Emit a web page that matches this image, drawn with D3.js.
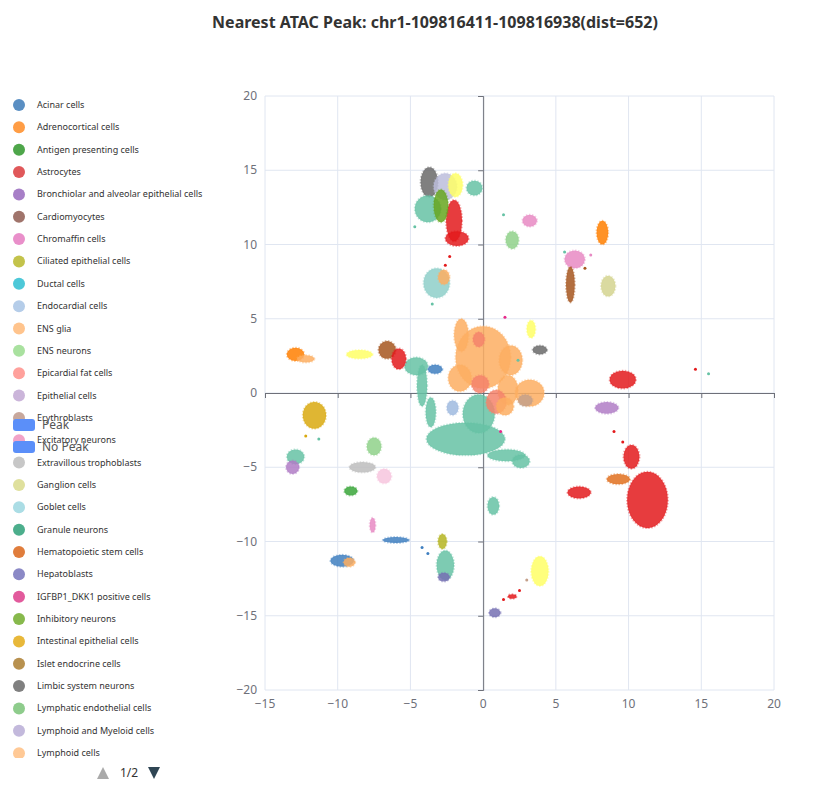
<!DOCTYPE html>
<html><head><meta charset="utf-8">
<script src="https://cdn.jsdelivr.net/npm/d3@7"></script>
<style>body{margin:0;background:#fff;font-family:"Noto Sans",sans-serif}</style>
</head><body><svg id="c" width="832" height="798"></svg>
<script>
const title = "Nearest ATAC Peak: chr1-109816411-109816938(dist=652)";
const categories = ["Acinar cells","Adrenocortical cells","Antigen presenting cells","Astrocytes","Bronchiolar and alveolar epithelial cells","Cardiomyocytes","Chromaffin cells","Ciliated epithelial cells","Ductal cells","Endocardial cells","ENS glia","ENS neurons","Epicardial fat cells","Epithelial cells","Erythroblasts","Excitatory neurons","Extravillous trophoblasts","Ganglion cells","Goblet cells","Granule neurons","Hematopoietic stem cells","Hepatoblasts","IGFBP1_DKK1 positive cells","Inhibitory neurons","Intestinal epithelial cells","Islet endocrine cells","Limbic system neurons","Lymphatic endothelial cells","Lymphoid and Myeloid cells","Lymphoid cells"];
const legendColors = ["#5a8fc3","#ff9d45","#4ea64a","#e0585a","#a77fc7","#a0746b","#e98fca","#c3c34b","#4dc8d8","#b5cde9","#ffc48d","#a9e19f","#ffa19c","#cbb5da","#c8a89c","#f2a3c8","#c7c7c7","#dfe09d","#abdde5","#4cae8c","#e07d3c","#8b89c6","#e25a9c","#87b94c","#e8b83a","#b8914f","#808080","#8ecc8c","#c3b9dc","#ffc996"];
const xTicks = [-15,-10,-5,0,5,10,15,20];
const yTicks = [-20,-15,-10,-5,0,5,10,15,20];
// clusters: [cell type, x, y, rx, ry] in UMAP units
const clusters = [
 ["Granule neurons",-1.2,-3.1,2.7,1.1],["Granule neurons",-0.3,-1.4,1.1,1.3],["Granule neurons",1.6,-4.2,1.3,0.4],["Granule neurons",2.6,-4.6,0.6,0.45],
 ["Granule neurons",-4.2,0.5,0.35,1.4],["Granule neurons",-3.6,-1.3,0.35,1.0],["Granule neurons",-4.6,1.8,0.8,0.6],
 ["ENS glia",0.0,2.4,1.9,2.1],["ENS glia",-1.5,3.9,0.5,1.1],["ENS glia",1.9,2.2,0.8,1.0],["ENS glia",-1.6,1.0,0.8,0.9],["ENS glia",1.7,0.2,0.7,1.0],["Epicardial fat cells",0.9,-0.6,0.7,0.8],["ENS glia",1.5,-0.9,0.6,0.6],
 ["Epicardial fat cells",-0.2,0.6,0.6,0.6],["Epicardial fat cells",-0.3,3.6,0.4,0.5],["Acinar cells",-3.3,1.6,0.5,0.3],["Endocardial cells",-2.1,-1.0,0.4,0.5],
 ["Limbic system neurons",-3.7,14.2,0.6,1.0],["Lymphoid and Myeloid cells",-2.6,13.9,0.8,0.9],["Ganglion cells",-1.9,14.0,0.5,0.8],
 ["Astrocytes",-2.0,11.6,0.55,1.4],["Astrocytes",-1.8,10.4,0.8,0.5],["Granule neurons",-3.8,12.4,0.9,0.9],["Inhibitory neurons",-2.9,12.6,0.5,1.1],["Granule neurons",-0.6,13.8,0.55,0.5],
 ["Chromaffin cells",3.2,11.6,0.5,0.4],["Lymphatic endothelial cells",2.0,10.3,0.45,0.6],
 ["Adrenocortical cells",8.2,10.8,0.4,0.8],["Chromaffin cells",6.3,9.0,0.7,0.6],["Cardiomyocytes",6.0,7.3,0.3,1.2],["Ganglion cells",8.6,7.2,0.5,0.7],
 ["Goblet cells",-3.2,7.4,0.9,1.0],["ENS glia",-2.7,7.8,0.4,0.5],
 ["Adrenocortical cells",-12.9,2.6,0.6,0.45],["ENS glia",-12.2,2.3,0.6,0.25],
 ["Ganglion cells",-8.5,2.6,0.9,0.3],["Cardiomyocytes",-6.6,2.9,0.6,0.6],["Astrocytes",-5.8,2.3,0.5,0.7],
 ["Limbic system neurons",3.9,2.9,0.5,0.3],["Ganglion cells",3.3,4.3,0.3,0.6],
 ["ENS glia",3.2,0.0,1.0,0.9],["Erythroblasts",2.9,-0.5,0.5,0.4],
 ["Astrocytes",9.6,0.9,0.9,0.6],["Bronchiolar and alveolar epithelial cells",8.5,-1.0,0.8,0.4],
 ["Astrocytes",11.3,-7.2,1.4,1.9],["Astrocytes",10.2,-4.3,0.55,0.8],["Hematopoietic stem cells",9.3,-5.8,0.8,0.35],["Astrocytes",6.6,-6.7,0.8,0.4],
 ["Intestinal epithelial cells",-11.6,-1.5,0.8,0.9],["Granule neurons",-12.9,-4.3,0.6,0.5],["Bronchiolar and alveolar epithelial cells",-13.1,-5.0,0.45,0.45],
 ["Lymphatic endothelial cells",-7.5,-3.6,0.5,0.6],["Extravillous trophoblasts",-8.3,-5.0,0.9,0.35],["Excitatory neurons",-6.8,-5.6,0.5,0.5],["Antigen presenting cells",-9.1,-6.6,0.45,0.3],
 ["Granule neurons",0.7,-7.6,0.4,0.6],
 ["Acinar cells",-9.7,-11.3,0.8,0.4],["ENS glia",-9.2,-11.4,0.4,0.3],["Acinar cells",-6.0,-9.9,0.9,0.2],["Chromaffin cells",-7.6,-8.9,0.2,0.5],
 ["Granule neurons",-2.6,-11.6,0.6,1.0],["Ciliated epithelial cells",-2.8,-10.0,0.3,0.5],["Hepatoblasts",-2.7,-12.4,0.4,0.3],
 ["Ganglion cells",3.9,-12.0,0.6,1.0],["Hepatoblasts",0.8,-14.8,0.4,0.3],["Astrocytes",2.0,-13.7,0.3,0.15]
];
// scattered single cells: [cell type, x, y]
const dots = [["Astrocytes",14.6,1.6],["Granule neurons",15.5,1.3],["Astrocytes",-2.3,9.2],["Astrocytes",-2.6,8.6],["Granule neurons",1.4,12.0],
 ["Granule neurons",-4.7,11.2],["Granule neurons",-3.5,6.0],["Chromaffin cells",7.4,9.3],["Cardiomyocytes",7.0,8.4],["Granule neurons",5.6,9.5],
 ["Astrocytes",9.0,-2.6],["Astrocytes",9.6,-3.3],["IGFBP1_DKK1 positive cells",1.2,-2.6],["IGFBP1_DKK1 positive cells",1.5,5.1],["Granule neurons",2.4,2.2],
 ["Astrocytes",1.4,-13.9],["Astrocytes",2.5,-13.3],["Erythroblasts",3.0,-12.6],["Acinar cells",-4.2,-10.4],["Acinar cells",-3.8,-10.8],["Granule neurons",-11.3,-3.1],["Intestinal epithelial cells",-12.2,-2.9]];
const plotColor = {"Granule neurons":"#66c2a5","ENS glia":"#fdae61","Epicardial fat cells":"#f4826b","Acinar cells":"#3f7fc0","Endocardial cells":"#9fbadf",
 "Limbic system neurons":"#6a6a6a","Lymphoid and Myeloid cells":"#bcbddc","Ganglion cells":"#ffff66","Astrocytes":"#e31a1c","Inhibitory neurons":"#66a61e",
 "Chromaffin cells":"#e78ac3","Lymphatic endothelial cells":"#8fd18a","Adrenocortical cells":"#ff7f00","Cardiomyocytes":"#a6561f","Goblet cells":"#8ecfc9",
 "Erythroblasts":"#c4a08a","Bronchiolar and alveolar epithelial cells":"#b07cc6","Hematopoietic stem cells":"#e0701f","Intestinal epithelial cells":"#d9a90f",
 "Hepatoblasts":"#7570b3","Extravillous trophoblasts":"#bdbdbd","Excitatory neurons":"#f7c6de","Antigen presenting cells":"#3aa63a","Ciliated epithelial cells":"#b5b521","IGFBP1_DKK1 positive cells":"#e7298a"};
const overrides = {"Ganglion cells":[[8.6,7.2,"#d4d48f"]]};

const svg = d3.select("#c");
svg.append("text").attr("x",435).attr("y",28).attr("text-anchor","middle").attr("font-size",16).attr("font-weight","bold").attr("fill","#333").text(title);
const x = d3.scaleLinear().domain([-15,20]).range([265,774]);
const y = d3.scaleLinear().domain([-20,20]).range([690,96]);
const g = svg.append("g");
xTicks.forEach(t=>g.append("line").attr("x1",x(t)).attr("x2",x(t)).attr("y1",y(20)).attr("y2",y(-20)).attr("stroke","#e0e6f1"));
yTicks.forEach(t=>g.append("line").attr("y1",y(t)).attr("y2",y(t)).attr("x1",x(-15)).attr("x2",x(20)).attr("stroke","#e0e6f1"));
const xa = svg.append("g").attr("transform",`translate(0,${y(0)})`).call(d3.axisBottom(x).tickValues(xTicks).tickSize(5).tickFormat(""));
const ya = svg.append("g").attr("transform",`translate(${x(0)},0)`).call(d3.axisLeft(y).tickValues(yTicks).tickSize(5).tickFormat(""));
[xa,ya].forEach(a=>{a.selectAll("path,line").attr("stroke","#6e7079");});
xTicks.forEach(t=>svg.append("text").attr("x",x(t)).attr("y",708).attr("text-anchor","middle").attr("font-size",12).attr("fill","#6e7079").text(t<0?"\u2212"+(-t):t));
yTicks.forEach(t=>svg.append("text").attr("x",257).attr("y",y(t)+4).attr("text-anchor","end").attr("font-size",12).attr("fill","#6e7079").text(t<0?"\u2212"+(-t):t));
const col = (n,cx,cy)=>{const o=(overrides[n]||[]).find(v=>v[0]===cx&&v[1]===cy);return o?o[2]:(plotColor[n]||"#999");};
const pg = svg.append("g");
pg.selectAll("ellipse.c").data(clusters).join("ellipse")
 .attr("cx",d=>x(d[1])).attr("cy",d=>y(d[2]))
 .attr("rx",d=>x(d[3])-x(0)).attr("ry",d=>y(0)-y(d[4]))
 .attr("fill",d=>col(d[0],d[1],d[2])).attr("fill-opacity",0.85)
 .attr("stroke",d=>col(d[0],d[1],d[2])).attr("stroke-opacity",0.4).attr("stroke-width",2).attr("stroke-dasharray","1.5 1.5");
pg.selectAll("circle.d").data(dots).join("circle").attr("cx",d=>x(d[1])).attr("cy",d=>y(d[2])).attr("r",1.5).attr("fill",d=>col(d[0]));
const lg = svg.append("g");
categories.forEach((c,i)=>{
 const yy = 105+i*22.35;
 if(yy>760) return;
 lg.append("circle").attr("cx",19).attr("cy",yy).attr("r",6).attr("fill",legendColors[i]);
 lg.append("text").attr("x",37).attr("y",yy+3).attr("font-size",9).attr("fill","#333").text(c);
});
lg.append("rect").attr("x",0).attr("y",758).attr("width",250).attr("height",20).attr("fill","#fff");
[["Peak",424],["No Peak",446]].forEach(([t,yy])=>{
 lg.append("rect").attr("x",13).attr("y",yy-5).attr("width",22).attr("height",12).attr("rx",3).attr("fill","#5b8ff9");
 lg.append("text").attr("x",42).attr("y",yy+5).attr("font-size",12).attr("fill","#555").text(t);
});
svg.append("path").attr("d","M97,779 L103,767 L109,779 Z").attr("fill","#aaa");
svg.append("text").attr("x",129).attr("y",777).attr("text-anchor","middle").attr("font-size",12).attr("fill","#333").text("1/2");
svg.append("path").attr("d","M148,767 L160,767 L154,779 Z").attr("fill","#2f4554");
</script></body></html>
